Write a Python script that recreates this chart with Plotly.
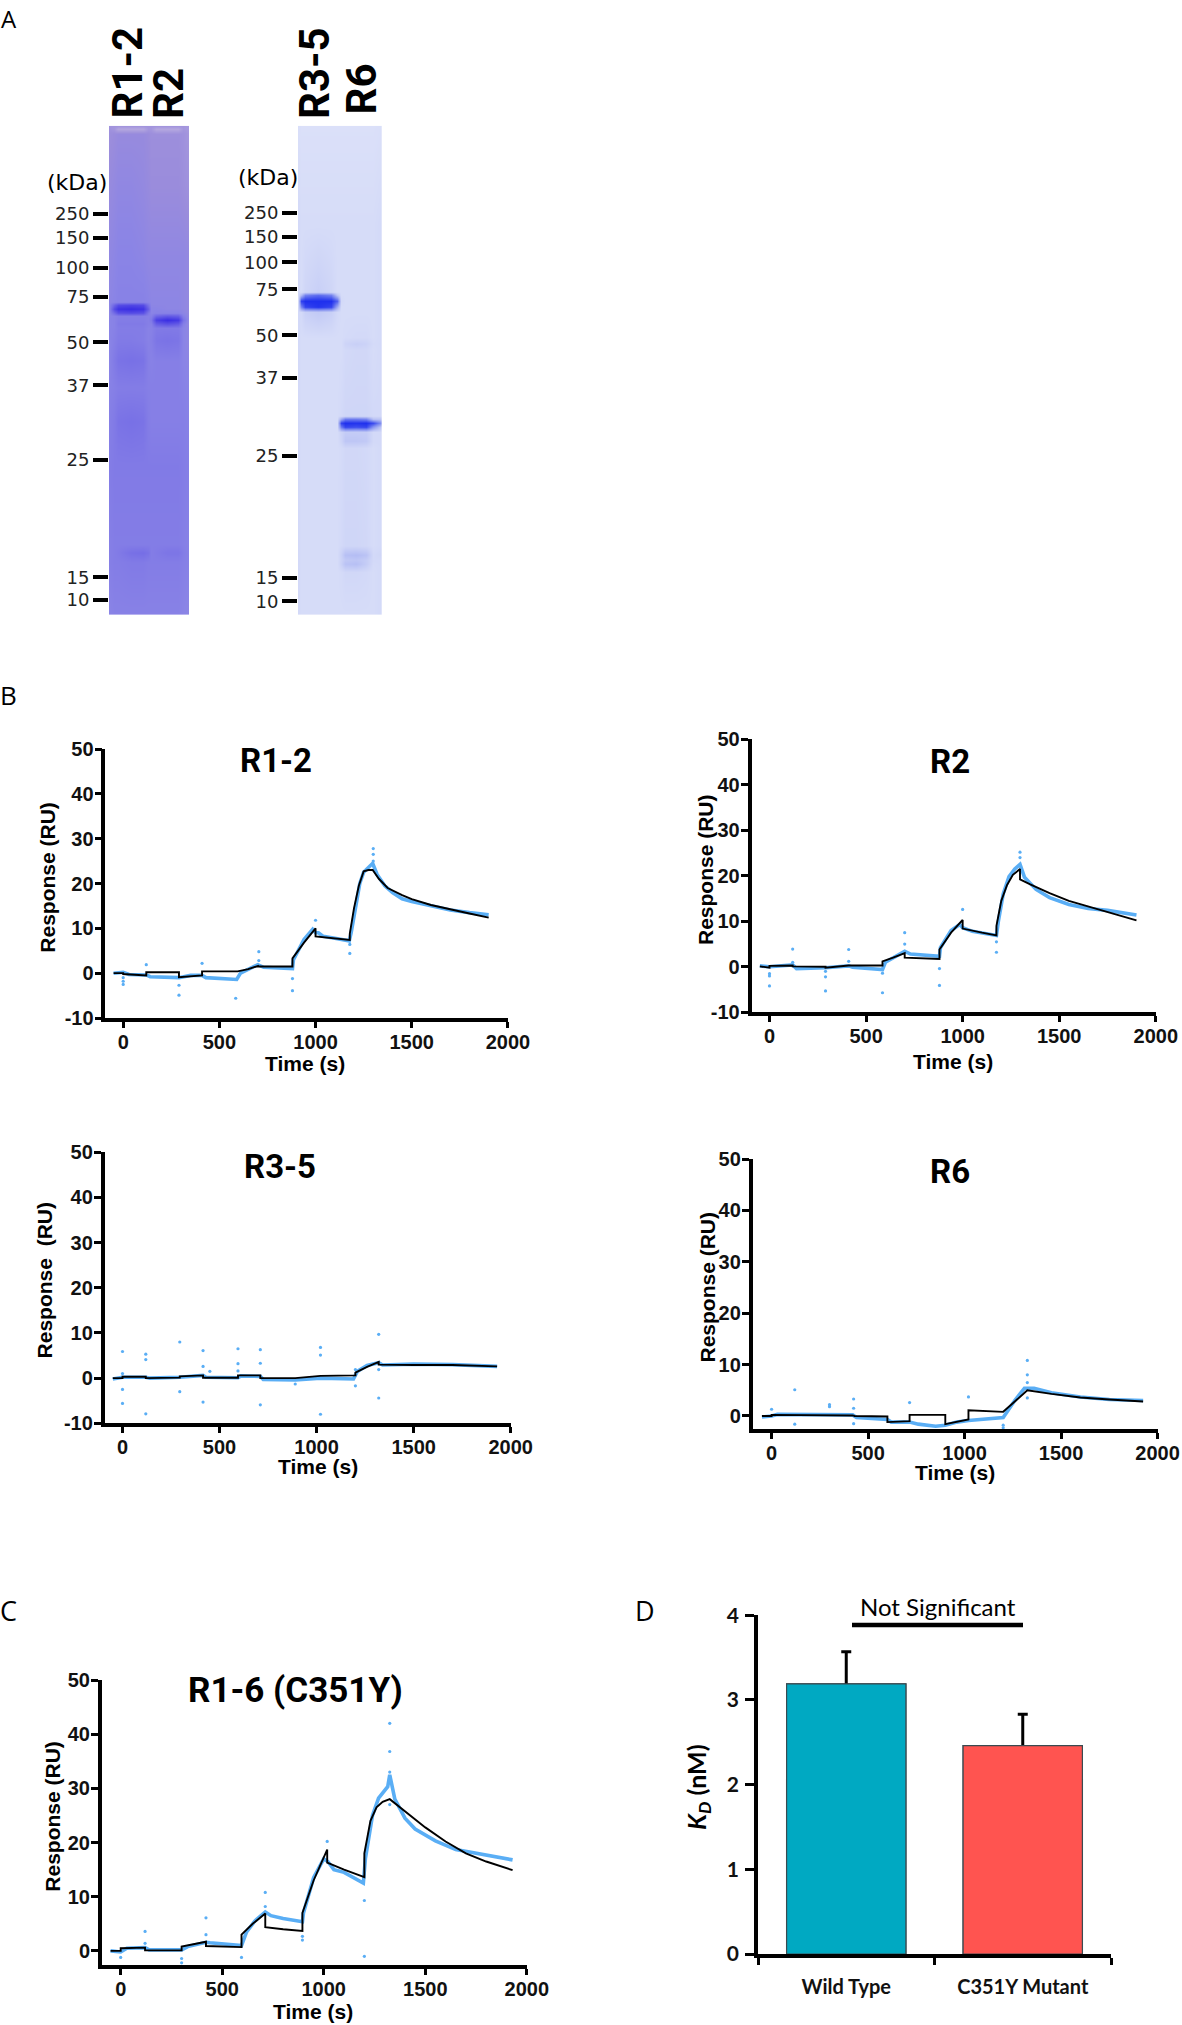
import plotly.graph_objects as go

W = 1182
H = 2025

# ---- gel data (stain intensity 0-100, rows = distance from top of gel)
gel_mw = ["250", "150", "100", "75", "50", "37", "25", "15", "10"]
gel1_mw_rows = [88, 112, 142, 171, 216.5, 259.5, 334, 451.5, 474]
gel2_mw_rows = [87, 111, 136.6, 163.5, 209.7, 252, 330, 452, 475.6]

gel1_cols = [0, 5, 9, 22, 34, 39, 42, 47, 58, 69, 74, 80]
gel1_rows = [0, 3, 8, 60, 130, 176, 179, 183, 187, 190, 194, 198, 202, 215, 235, 262, 296, 340, 419, 427, 436, 489]
gel1_z = [
    [14, 14, 14, 14, 14, 14, 14, 14, 14, 14, 14, 10],
    [16, 12, 0, 0, 0, 12, 12, 0, 0, 0, 12, 10],
    [18, 20, 22, 22, 22, 20, 18, 18, 18, 18, 16, 12],
    [22, 24, 26, 26, 24, 22, 20, 20, 20, 20, 18, 16],
    [26, 28, 30, 30, 28, 26, 26, 26, 26, 26, 26, 24],
    [28, 30, 32, 32, 32, 30, 28, 28, 28, 28, 26, 24],
    [28, 55, 75, 80, 76, 45, 28, 28, 28, 28, 26, 24],
    [28, 75, 95, 100, 95, 60, 30, 30, 28, 28, 26, 24],
    [28, 50, 70, 75, 70, 40, 30, 32, 32, 32, 28, 24],
    [28, 32, 36, 36, 36, 34, 34, 55, 65, 60, 34, 24],
    [30, 32, 36, 36, 36, 34, 40, 85, 100, 90, 45, 24],
    [30, 32, 38, 38, 38, 34, 34, 60, 70, 62, 34, 24],
    [30, 32, 36, 36, 36, 32, 32, 38, 38, 38, 30, 26],
    [30, 34, 38, 38, 36, 32, 34, 42, 44, 42, 30, 26],
    [30, 38, 44, 46, 44, 34, 32, 34, 34, 34, 30, 28],
    [32, 34, 36, 36, 36, 34, 34, 34, 34, 34, 32, 30],
    [34, 38, 44, 46, 44, 36, 34, 34, 34, 34, 34, 32],
    [36, 38, 38, 38, 38, 38, 38, 38, 38, 38, 36, 34],
    [34, 36, 36, 36, 36, 36, 36, 36, 36, 36, 34, 32],
    [34, 36, 38, 46, 48, 44, 36, 38, 42, 42, 36, 32],
    [34, 36, 36, 38, 38, 36, 36, 36, 36, 36, 34, 32],
    [30, 32, 32, 32, 32, 32, 32, 32, 32, 32, 30, 28],
]
gel1_colors = [[0, "#b5a8e0"], [0.2, "#9a8cdc"], [0.3, "#8a84e6"], [0.4, "#7f78e6"], [1, "#3a2ee4"]]

gel2_cols = [0, 3, 7, 20, 33, 39, 43, 47, 58, 68, 75, 84]
gel2_rows = [0, 100, 166, 169, 175, 181, 186, 212, 218, 224, 290, 293, 297, 301, 306, 315, 322, 420, 429, 434, 438, 446, 489]
gel2_z = [
    [8, 7, 7, 7, 7, 7, 7, 7, 7, 7, 7, 8],
    [12, 10, 10, 10, 10, 10, 10, 10, 10, 10, 10, 12],
    [12, 10, 14, 18, 14, 10, 10, 10, 10, 10, 10, 12],
    [12, 30, 62, 72, 62, 24, 10, 10, 10, 10, 10, 12],
    [12, 92, 100, 100, 100, 78, 12, 10, 10, 10, 10, 12],
    [12, 60, 90, 98, 90, 40, 10, 10, 10, 10, 10, 12],
    [12, 12, 18, 22, 18, 12, 10, 10, 10, 10, 10, 12],
    [12, 10, 10, 10, 10, 10, 10, 11, 12, 12, 10, 12],
    [12, 10, 10, 10, 10, 10, 10, 15, 18, 16, 11, 12],
    [12, 10, 10, 10, 10, 10, 10, 12, 13, 13, 10, 12],
    [12, 10, 10, 10, 10, 10, 12, 14, 14, 14, 12, 12],
    [12, 10, 10, 10, 10, 10, 40, 65, 65, 60, 26, 24],
    [12, 10, 10, 10, 10, 10, 92, 100, 98, 100, 88, 50],
    [12, 10, 10, 10, 10, 10, 66, 90, 86, 90, 52, 20],
    [12, 10, 10, 10, 10, 10, 16, 20, 20, 20, 12, 12],
    [12, 10, 10, 10, 10, 10, 15, 24, 24, 22, 12, 12],
    [12, 10, 10, 10, 10, 10, 11, 13, 13, 12, 10, 12],
    [12, 10, 10, 10, 10, 10, 12, 14, 14, 13, 10, 12],
    [12, 10, 10, 10, 10, 10, 17, 28, 30, 26, 12, 14],
    [12, 10, 10, 10, 10, 10, 16, 22, 24, 20, 12, 12],
    [12, 10, 10, 10, 10, 10, 17, 26, 28, 20, 11, 12],
    [12, 10, 10, 10, 10, 10, 11, 13, 13, 12, 10, 12],
    [12, 10, 10, 10, 10, 10, 10, 10, 10, 10, 10, 12],
]
gel2_colors = [[0, "#e6e9fb"], [0.1, "#d6dcf8"], [0.3, "#b4bdf4"], [0.6, "#7a88f0"], [1, "#1f30ee"]]

# ---- sensorgrams: fit (black), measured (blue), stray points
r12_fit_t = [-50, 0, 0, 60, 120, 120, 290, 290, 410, 410, 595, 650, 700, 700, 880, 880, 940, 1000, 1000, 1100, 1178, 1178, 1200, 1225, 1250, 1275, 1297, 1330, 1375, 1450, 1500, 1600, 1700, 1800, 1900]
r12_fit_y = [0, 0, -0.2, -0.4, -0.5, 0.2, 0.2, -0.9, -0.5, 0.4, 0.4, 0.9, 1.6, 1.5, 1.5, 3.3, 6.8, 10, 8.2, 7.8, 7.4, 8.8, 14.5, 19.5, 22.7, 23, 23, 21, 19, 17.4, 16.5, 15.2, 14.2, 13.3, 12.4]
r12_obs_t = [-50, 0, 30, 120, 140, 290, 350, 410, 430, 590, 610, 650, 700, 730, 880, 885, 940, 985, 1000, 1015, 1040, 1100, 1175, 1185, 1210, 1230, 1250, 1275, 1297, 1320, 1360, 1400, 1450, 1500, 1600, 1700, 1800, 1900]
r12_obs_y = [0, 0.2, -0.3, -0.4, -0.8, -1, -0.5, -0.5, -1, -1.4, 0, 0.8, 1.9, 1.3, 1, 3, 7.5, 9.8, 9, 9, 8.2, 7.8, 7.2, 9, 15, 20, 22.5, 23.5, 24.5, 22, 19.5, 18, 16.6, 16, 15, 14.1, 13.5, 13]
r12_out_t = [0, 0, 0, 120, 290, 290, 410, 585, 705, 705, 880, 880, 1000, 1178, 1178, 1300, 1300, 1300]
r12_out_y = [-1, -1.8, -2.5, 1.9, -2.7, -4.9, 2.2, -5.6, 4.8, 2.8, -1.2, -3.9, 11.8, 6.4, 4.4, 27.8, 26.5, 25]

r2_fit_t = [-50, 0, 0, 120, 120, 290, 290, 410, 585, 585, 640, 700, 700, 880, 880, 940, 1000, 1000, 1100, 1175, 1175, 1200, 1230, 1260, 1297, 1297, 1350, 1450, 1550, 1700, 1800, 1900]
r2_fit_y = [0.1, -0.2, 0.2, 0.3, 0.1, 0, -0.2, 0.3, 0.3, 1.2, 2, 3, 2, 1.7, 3.8, 7.5, 10.3, 8.4, 7.5, 6.9, 9, 14.5, 18, 20.2, 21.5, 19.2, 18.1, 16.2, 14.5, 12.6, 11.3, 10.2]
r2_obs_t = [-50, 0, 120, 140, 290, 410, 430, 585, 600, 650, 700, 730, 880, 885, 940, 985, 1000, 1050, 1175, 1185, 1210, 1240, 1270, 1297, 1320, 1380, 1450, 1550, 1650, 1750, 1900]
r2_obs_y = [0.2, 0, 0.4, -0.4, -0.2, 0.2, -0.1, -0.6, 1, 2.3, 3.4, 2.8, 2.3, 4.2, 8, 9.3, 8.6, 7.8, 6.9, 10, 16, 19.8, 21.5, 22.5, 19.7, 17, 15.2, 13.7, 12.8, 12.4, 11.4]
r2_out_t = [0, 0, 0, 120, 120, 290, 290, 290, 410, 410, 585, 585, 700, 700, 880, 880, 1000, 1175, 1175, 1297, 1297]
r2_out_y = [-1.5, -2, -4.2, 3.9, 1, -1, -2.2, -5.3, 3.8, 1.2, -1.4, -5.7, 7.5, 5, -0.4, -4.1, 12.6, 5.5, 3.2, 25.2, 24]

r35_fit_t = [-50, 0, 0, 120, 120, 295, 295, 415, 415, 595, 595, 710, 710, 890, 1020, 1200, 1200, 1260, 1320, 1320, 1500, 1700, 1930]
r35_fit_y = [0, 0, 0.3, 0.3, 0, 0.1, 0.4, 0.6, 0.1, 0.1, 0.6, 0.6, 0, 0, 0.5, 0.6, 1.2, 2.5, 3.6, 3, 2.9, 2.9, 2.6]
r35_obs_t = [-50, 0, 120, 140, 295, 415, 430, 595, 610, 710, 725, 890, 1020, 1190, 1210, 1260, 1320, 1340, 1500, 1700, 1930]
r35_obs_y = [-0.2, 0.2, 0.2, 0, 0.2, 0.6, 0.2, 0.1, 0.5, 0.4, -0.3, -0.4, 0, -0.2, 1.5, 2.8, 3.4, 2.9, 3.1, 3, 2.6]
r35_out_t = [0, 0, 0, 0, 120, 120, 120, 295, 295, 415, 415, 415, 450, 595, 595, 595, 710, 710, 710, 890, 1020, 1020, 1020, 1200, 1200, 1320, 1320, 1320]
r35_out_y = [5.9, 1, -2.5, -5.6, 5.3, 4.1, -7.9, 8, -3, 6.1, 2.6, -5.3, 1.5, 6.5, 3.2, 1.6, 6.3, 3.3, -5.9, -1.3, 6.8, 5.1, -8, 1.9, -1.7, 9.7, 1.9, -4.4]

r6_fit_t = [-50, 0, 0, 30, 420, 430, 600, 600, 715, 715, 900, 900, 1020, 1020, 1200, 1260, 1325, 1450, 1600, 1750, 1925]
r6_fit_y = [0, 0, 0.2, 0.2, 0.1, 0, -0.1, -1.2, -1, 0.2, 0.2, -1.6, -0.7, 1.1, 0.8, 2.8, 5, 4.3, 3.6, 3.2, 2.8]
r6_obs_t = [-50, 0, 30, 300, 420, 440, 600, 620, 715, 760, 850, 900, 960, 1020, 1100, 1200, 1260, 1310, 1360, 1450, 1600, 1750, 1925]
r6_obs_y = [-0.2, 0, 0.3, 0.2, 0.2, -0.3, -0.7, -1.2, -1.2, -1.6, -2, -1.8, -1.2, -0.9, -0.6, -0.3, 3, 5.4, 5.4, 4.5, 3.7, 3.2, 3]
r6_out_t = [0, 120, 120, 300, 300, 425, 425, 425, 715, 1020, 1325, 1325, 1325, 1325, 1200, 1200]
r6_out_y = [1.3, 5.1, -1.6, 2.2, 1.8, 3.3, 1.5, -1.5, 2.6, 3.7, 10.8, 8, 6.5, 3.5, -1.8, -2.3]

mut_fit_t = [-50, 0, 0, 120, 120, 300, 300, 360, 420, 420, 595, 595, 650, 712, 712, 800, 895, 895, 950, 1017, 1017, 1100, 1200, 1200, 1230, 1260, 1290, 1325, 1400, 1500, 1600, 1700, 1800, 1930]
mut_fit_y = [0, 0, 0.5, 0.6, 0.1, 0.1, 0.8, 1.2, 1.7, 0.9, 0.7, 3, 5, 6.9, 4.4, 4, 3.7, 7, 13, 18.7, 16.3, 15, 13.6, 18, 24, 26.5, 27.5, 28, 25.8, 22.8, 20.2, 18, 16.5, 14.9]
mut_obs_t = [-50, 0, 30, 120, 140, 300, 330, 420, 440, 595, 620, 660, 712, 740, 800, 895, 900, 950, 1000, 1020, 1050, 1100, 1195, 1205, 1240, 1270, 1315, 1325, 1350, 1400, 1450, 1550, 1650, 1750, 1850, 1930]
mut_obs_y = [0, -0.2, 0.5, 0.6, 0.2, 0.2, 0.8, 1.6, 1.5, 1, 3.5, 5.5, 7.2, 6.5, 6, 5.4, 7, 13.5, 17, 16.5, 15, 14.5, 12.5, 17, 25, 28.2, 30.3, 32.5, 28, 24.5, 22.5, 20.3, 18.7, 18, 17.2, 16.8]
mut_out_t = [0, 120, 120, 300, 300, 420, 420, 595, 712, 712, 895, 895, 1017, 1200, 1200, 1325, 1325, 1325, 1325]
mut_out_y = [-1.2, 3.6, 1.4, -1.4, -2.2, 6.1, 3, -1.2, 10.8, 8.2, 2.7, 2, 20.2, 9.3, -1, 42, 36.8, 33, 27]

time_ticks = [0, 500, 1000, 1500, 2000]
time_labels = ["0", "500", "1000", "1500", "2000"]
resp_ticks = [-10, 0, 10, 20, 30, 40, 50]
resp_labels = ["-10", "0", "10", "20", "30", "40", "50"]

# ---- KD bars
kd_groups = ["Wild Type", "C351Y Mutant"]
kd_values = [3.19, 2.46]
kd_errors = [0.38, 0.37]
kd_error_hidden = [0.05, 0.05]
kd_colors = ["#00a9c2", "#ff5450"]
kd_ticks = [0, 1, 2, 3, 4]
kd_labels = ["0", "1", "2", "3", "4"]

BLUE = "#5aaef5"
BOLD = "Liberation Sans"
TITLE = "Roboto"
LIGHT = "Open Sans"


def fx(px):
    return px / W


def fy(px):
    return 1 - px / H


def bold(labels):
    return [f"<b>{s}</b>" for s in labels]


fig = go.Figure()
layout = {}
notes = []


def note(text, x, y, size, family=BOLD, angle=0, anchor="center"):
    notes.append(dict(text=text, x=fx(x), y=fy(y), xref="paper", yref="paper", showarrow=False,
                      xanchor=anchor, yanchor="middle", textangle=angle,
                      font=dict(family=family, size=size, color="black")))


# gels
def add_gel(n, cols, rows, z, colors, left, right, mw_rows):
    fig.add_trace(go.Heatmap(x=cols, y=rows, z=z, colorscale=colors, zmin=0, zmax=100, zsmooth="best",
                             showscale=False, xaxis=f"x{n}", yaxis=f"y{n}"))
    layout[f"xaxis{n}"] = dict(domain=[fx(left), fx(right)], range=[0, cols[-1]], visible=False, anchor=f"y{n}", automargin=False)
    layout[f"yaxis{n}"] = dict(domain=[fy(614.7), fy(125.8)], range=[489, 0], anchor=f"x{n}", showgrid=False,
                               zeroline=False, showline=False, tickmode="array", tickvals=mw_rows, ticktext=gel_mw,
                               ticks="outside", ticklen=15, tickwidth=4, tickcolor="black", automargin=False,
                               tickfont=dict(family="DejaVu Sans", size=18, color="#222222"))


add_gel(1, gel1_cols, gel1_rows, gel1_z, gel1_colors, 109, 189, gel1_mw_rows)
add_gel(2, gel2_cols, gel2_rows, gel2_z, gel2_colors, 298, 381.7, gel2_mw_rows)
note("(kDa)", 76.5, 183, 22, "DejaVu Sans")
note("(kDa)", 268, 178, 22, "DejaVu Sans")
note("<b>R1-2</b>", 126.5, 73, 42, TITLE, -90)
note("<b>R2</b>", 168, 94, 42, TITLE, -90)
note("<b>R3-5</b>", 314, 73, 42, TITLE, -90)
note("<b>R6</b>", 360.5, 89, 42, TITLE, -90)

for letter, x, y, size in [("A", 9, 19, 24), ("B", 8, 695, 26), ("C", 8, 1610, 27), ("D", 645, 1610, 27)]:
    note(letter, x, y, size, LIGHT)


# sensorgram panels
def add_panel(n, fit_t, fit_y, obs_t, obs_y, out_t, out_y, axis_x, zero_x, end_x, top_y, bottom_y, y_min):
    fig.add_trace(go.Scatter(x=obs_t, y=obs_y, mode="lines", line=dict(color=BLUE, width=3.6),
                             xaxis=f"x{n}", yaxis=f"y{n}"))
    fig.add_trace(go.Scatter(x=out_t, y=out_y, mode="markers", marker=dict(color=BLUE, size=3.2),
                             xaxis=f"x{n}", yaxis=f"y{n}"))
    fig.add_trace(go.Scatter(x=fit_t, y=fit_y, mode="lines", line=dict(color="black", width=1.9),
                             xaxis=f"x{n}", yaxis=f"y{n}"))
    x_min = -(zero_x - axis_x) / (end_x - zero_x) * 2000
    ticks = [t for t in resp_ticks if t >= y_min]
    labels = [lab for t, lab in zip(resp_ticks, resp_labels) if t >= y_min]
    tick_style = dict(showgrid=False, zeroline=False, showline=True, linecolor="black", linewidth=3.6,
                      ticks="outside", tickcolor="black", tickwidth=3.2, automargin=False,
                      tickfont=dict(family=BOLD, size=20, color="#111111"))
    layout[f"xaxis{n}"] = dict(domain=[fx(axis_x), fx(end_x)], range=[x_min, 2000], anchor=f"y{n}",
                               tickmode="array", tickvals=time_ticks, ticktext=bold(time_labels),
                               ticklen=6, ticklabelstandoff=-3, **tick_style)
    layout[f"yaxis{n}"] = dict(domain=[fy(bottom_y), fy(top_y)], range=[y_min, 50], anchor=f"x{n}",
                               tickmode="array", tickvals=ticks, ticktext=bold(labels),
                               ticklen=7, ticklabelstandoff=-3, **tick_style)


add_panel(3, r12_fit_t, r12_fit_y, r12_obs_t, r12_obs_y, r12_out_t, r12_out_y, 105.4, 123.2, 507.9, 749, 1018, -10)
add_panel(4, r2_fit_t, r2_fit_y, r2_obs_t, r2_obs_y, r2_out_t, r2_out_y, 751.5, 769.5, 1155.8, 739.3, 1012.3, -10)
add_panel(5, r35_fit_t, r35_fit_y, r35_obs_t, r35_obs_y, r35_out_t, r35_out_y, 104.6, 122.5, 510.7, 1152.3, 1423.3, -10)
add_panel(6, r6_fit_t, r6_fit_y, r6_obs_t, r6_obs_y, r6_out_t, r6_out_y, 752.6, 771.6, 1157.6, 1159, 1429.3, -2.6)
add_panel(7, mut_fit_t, mut_fit_y, mut_obs_t, mut_obs_y, mut_out_t, mut_out_y, 101.8, 120.7, 526.8, 1680, 1965, -2.6)

note("<b>R1-2</b>", 276, 761, 33, TITLE)
note("<b>R2</b>", 950, 761.5, 33, TITLE)
note("<b>R3-5</b>", 279.5, 1166, 33, TITLE)
note("<b>R6</b>", 950, 1171, 33, TITLE)
note("<b>R1-6 (C351Y)</b>", 295, 1690, 35, TITLE)

note("<b>Response (RU)</b>", 48, 876.7, 21, angle=-90)
note("<b>Response (RU)</b>", 706, 870, 21, angle=-90)
note("<b>Response\u00a0\u00a0(RU)</b>", 44.6, 1280.8, 21, angle=-90)
note("<b>Response (RU)</b>", 707, 1287.5, 21, angle=-90)
note("<b>Response (RU)</b>", 52.9, 1815.8, 21, angle=-90)

note("<b>Time (s)</b>", 305.4, 1063, 21)
note("<b>Time (s)</b>", 952.6, 1061, 21)
note("<b>Time (s)</b>", 317.9, 1466.7, 21)
note("<b>Time (s)</b>", 955, 1472.7, 21)
note("<b>Time (s)</b>", 313, 2011, 21)

# KD panel: the whisker's lower end sits inside the bar, so a second bar covers it
kd_outline = dict(color="#3a4a50", width=1.2)
fig.add_trace(go.Bar(x=kd_groups, y=kd_values, width=0.676, marker=dict(color=kd_colors, line=kd_outline),
                     error_y=dict(type="data", symmetric=False, array=kd_errors, arrayminus=kd_error_hidden,
                                  color="black", thickness=3, width=5),
                     xaxis="x8", yaxis="y8"))
fig.add_trace(go.Bar(x=kd_groups, y=kd_values, width=0.676, marker=dict(color=kd_colors, line=kd_outline),
                     xaxis="x8", yaxis="y8"))
layout["xaxis8"] = dict(domain=[fx(758), fx(1111)], range=[-0.5, 1.5], anchor="y8", type="category", tickson="boundaries",
                        showgrid=False, zeroline=False, showline=True, linecolor="black", linewidth=3.6, automargin=False,
                        ticks="outside", ticklen=7, tickwidth=3.4, tickcolor="black", ticklabelstandoff=12,
                        tickprefix="<b>", ticksuffix="</b>",
                        tickfont=dict(family="Lato", size=20, color="#111111"))
layout["yaxis8"] = dict(domain=[fy(1954), fy(1615.3)], range=[0, 4], anchor="x8", tickmode="array", tickvals=kd_ticks,
                        ticktext=bold(kd_labels),
                        showgrid=False, zeroline=False, showline=True, linecolor="black", linewidth=3.6, automargin=False,
                        ticks="outside", ticklen=9, tickwidth=3.4, tickcolor="black", ticklabelstandoff=2,
                        tickfont=dict(family="Lato", size=21, color="#111111"))
note("<b><i>K</i></b><sub><b><i>D</i></b></sub><b> (nM)</b>", 698, 1787, 25, "Lato", -90)
note("Not Significant", 937.6, 1606, 24, "Lato")

shapes = [dict(type="line", xref="paper", yref="paper", x0=fx(852), x1=fx(1023), y0=fy(1625), y1=fy(1625),
               line=dict(color="black", width=4.5))]

fig.update_layout(width=W, height=H, margin=dict(l=0, r=0, t=0, b=0), autosize=False, showlegend=False,
                  plot_bgcolor="white", paper_bgcolor="white", annotations=notes, shapes=shapes,
                  barmode="overlay", **layout)

fig.write_html("out.html", config={"displayModeBar": False},
               post_script="document.body.style.margin='0';document.body.style.overflow='hidden';")
